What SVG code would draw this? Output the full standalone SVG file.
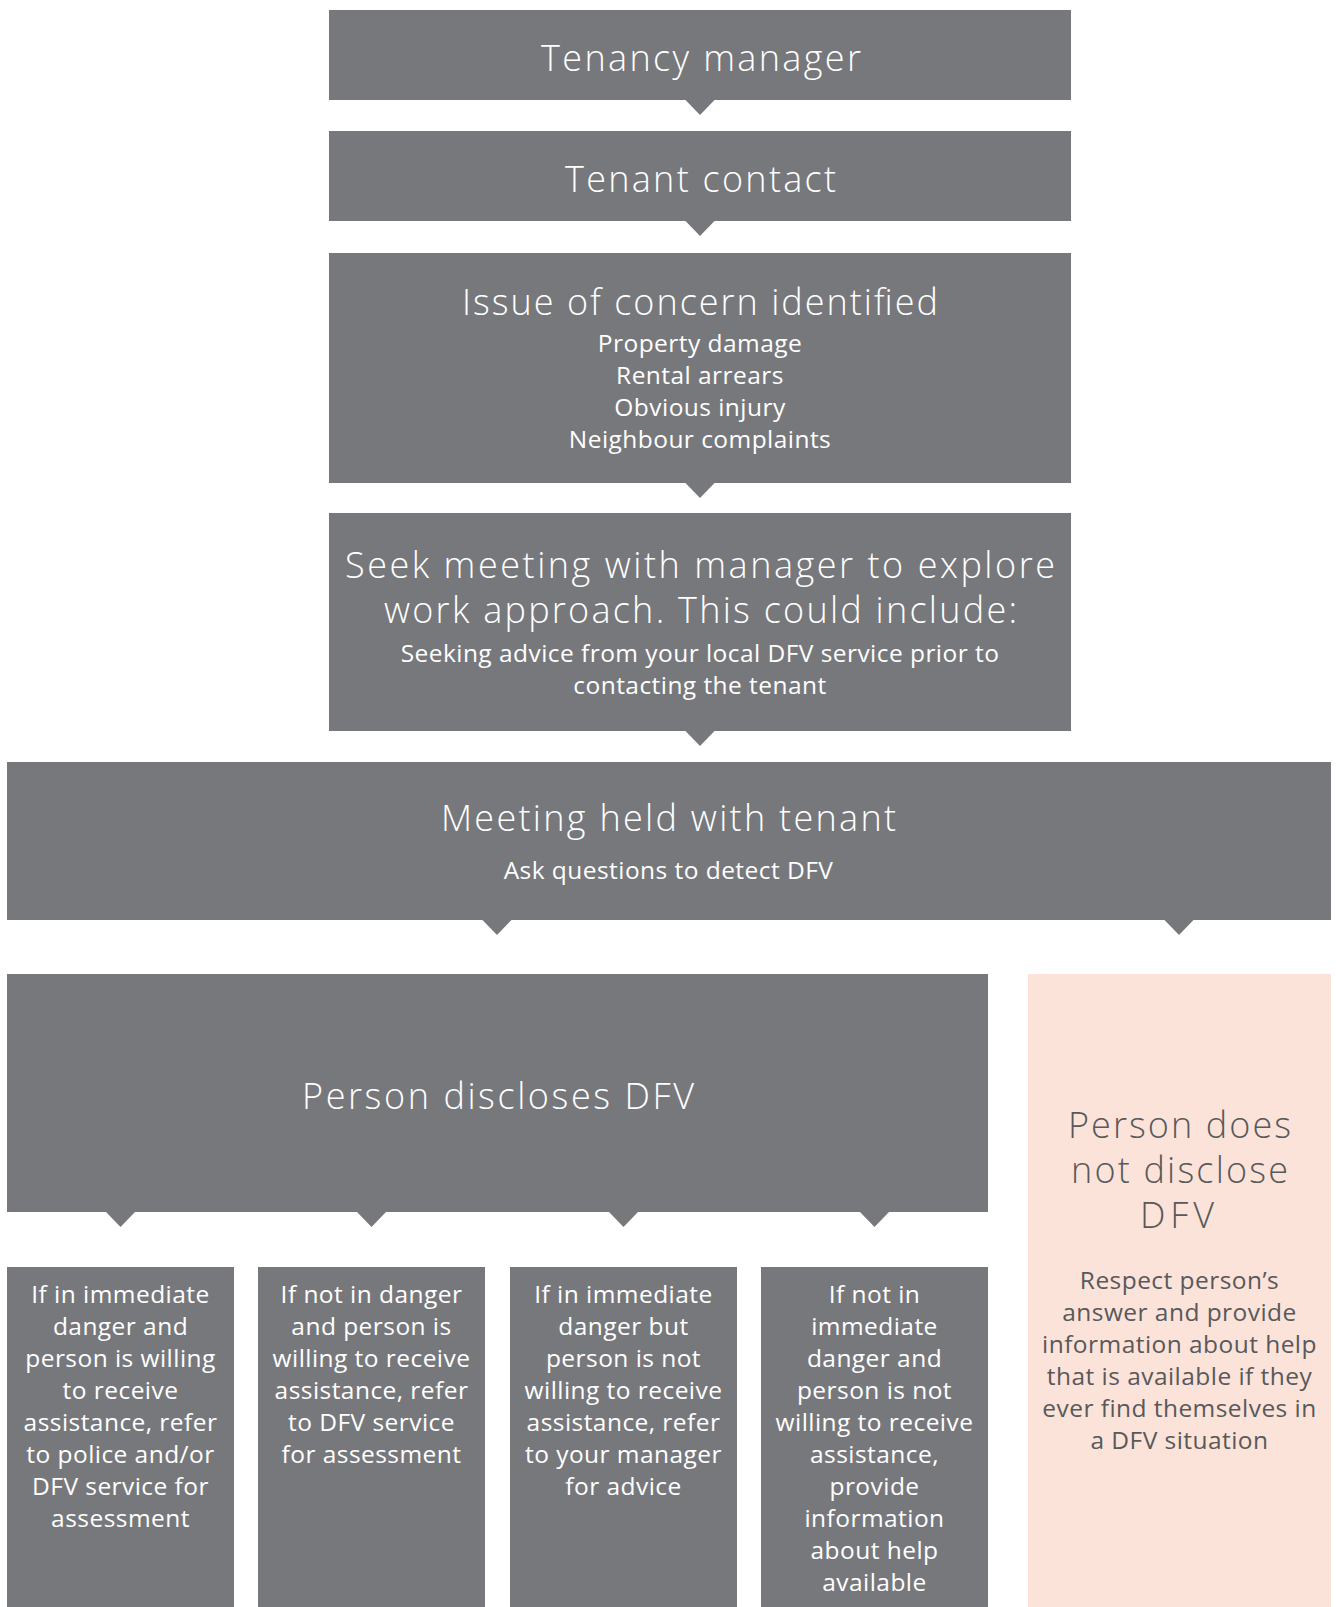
<svg xmlns="http://www.w3.org/2000/svg" width="1336" height="1607" viewBox="0 0 1336 1607">
<style>
.box{fill:#77787c}
.pink{fill:#fce3d9}
.arr{fill:#77787c}
.t{font-family:"Open Sans","Noto Sans",sans-serif;font-weight:300;font-size:36px;fill:#ffffff;text-anchor:middle}
.b{font-family:"Open Sans","Noto Sans",sans-serif;font-weight:400;font-size:24.5px;letter-spacing:0.45px;fill:#ffffff;text-anchor:middle}
.dk{fill:#58595b}
</style>
<rect width="1336" height="1607" fill="#ffffff"/>
<g id="connectors">
<polygon class="arr" points="685.5,100 714.5,100 700,115"/>
<polygon class="arr" points="685.5,221 714.5,221 700,236"/>
<polygon class="arr" points="685.5,483 714.5,483 700,498"/>
<polygon class="arr" points="685.5,731 714.5,731 700,746"/>
<polygon class="arr" points="482.5,920 511.5,920 497,935"/>
<polygon class="arr" points="1164.5,920 1193.5,920 1179,935"/>
<polygon class="arr" points="106,1212 135,1212 120.5,1227"/>
<polygon class="arr" points="357,1212 386,1212 371.5,1227"/>
<polygon class="arr" points="609,1212 638,1212 623.5,1227"/>
<polygon class="arr" points="860,1212 889,1212 874.5,1227"/>
</g>
<g id="tenancy-manager">
<rect class="box" x="329" y="10" width="742" height="90"/>
<text class="t" x="701" y="71" textLength="320" lengthAdjust="spacing">Tenancy manager</text>
</g>
<g id="tenant-contact">
<rect class="box" x="329" y="131" width="742" height="90"/>
<text class="t" x="700.5" y="192" textLength="271" lengthAdjust="spacing">Tenant contact</text>
</g>
<g id="issue-of-concern">
<rect class="box" x="329" y="253" width="742" height="230"/>
<text class="t" x="700" y="315" textLength="476" lengthAdjust="spacing">Issue of concern identified</text>
<text class="b" x="700" y="352">Property damage</text>
<text class="b" x="700" y="384">Rental arrears</text>
<text class="b" x="700" y="416">Obvious injury</text>
<text class="b" x="700" y="448">Neighbour complaints</text>
</g>
<g id="seek-meeting">
<rect class="box" x="329" y="513" width="742" height="218"/>
<text class="t" x="700" y="578" textLength="710" lengthAdjust="spacing">Seek meeting with manager to explore</text>
<text class="t" x="700.5" y="623" textLength="633" lengthAdjust="spacing">work approach. This could include:</text>
<text class="b" x="700" y="662">Seeking advice from your local DFV service prior to</text>
<text class="b" x="700" y="694">contacting the tenant</text>
</g>
<g id="meeting-held">
<rect class="box" x="7" y="762" width="1324" height="158"/>
<text class="t" x="668.5" y="831" textLength="455" lengthAdjust="spacing">Meeting held with tenant</text>
<text class="b" x="668.5" y="879">Ask questions to detect DFV</text>
</g>
<g id="person-discloses">
<rect class="box" x="7" y="974" width="981" height="238"/>
<text class="t" x="498" y="1109" textLength="392" lengthAdjust="spacing">Person discloses DFV</text>
</g>
<g id="person-does-not-disclose">
<rect class="pink" x="1028" y="974" width="303" height="633"/>
<text class="t dk" x="1179.5" y="1138" textLength="223" lengthAdjust="spacing">Person does</text>
<text class="t dk" x="1179.5" y="1183" textLength="217" lengthAdjust="spacing">not disclose</text>
<text class="t dk" x="1177" y="1228" textLength="74" lengthAdjust="spacing">DFV</text>
<text class="b dk" x="1179.5" y="1289">Respect person’s</text>
<text class="b dk" x="1179.5" y="1321">answer and provide</text>
<text class="b dk" x="1179.5" y="1353">information about help</text>
<text class="b dk" x="1179.5" y="1385">that is available if they</text>
<text class="b dk" x="1179.5" y="1417">ever find themselves in</text>
<text class="b dk" x="1179.5" y="1449">a DFV situation</text>
</g>
<g id="immediate-willing">
<rect class="box" x="7" y="1267" width="227" height="340"/>
<text class="b" x="120.5" y="1303">If in immediate</text>
<text class="b" x="120.5" y="1335">danger and</text>
<text class="b" x="120.5" y="1367">person is willing</text>
<text class="b" x="120.5" y="1399">to receive</text>
<text class="b" x="120.5" y="1431">assistance, refer</text>
<text class="b" x="120.5" y="1463">to police and/or</text>
<text class="b" x="120.5" y="1495">DFV service for</text>
<text class="b" x="120.5" y="1527">assessment</text>
</g>
<g id="not-danger-willing">
<rect class="box" x="258" y="1267" width="227" height="340"/>
<text class="b" x="371.5" y="1303">If not in danger</text>
<text class="b" x="371.5" y="1335">and person is</text>
<text class="b" x="371.5" y="1367">willing to receive</text>
<text class="b" x="371.5" y="1399">assistance, refer</text>
<text class="b" x="371.5" y="1431">to DFV service</text>
<text class="b" x="371.5" y="1463">for assessment</text>
</g>
<g id="immediate-not-willing">
<rect class="box" x="510" y="1267" width="227" height="340"/>
<text class="b" x="623.5" y="1303">If in immediate</text>
<text class="b" x="623.5" y="1335">danger but</text>
<text class="b" x="623.5" y="1367">person is not</text>
<text class="b" x="623.5" y="1399">willing to receive</text>
<text class="b" x="623.5" y="1431">assistance, refer</text>
<text class="b" x="623.5" y="1463">to your manager</text>
<text class="b" x="623.5" y="1495">for advice</text>
</g>
<g id="not-immediate-not-willing">
<rect class="box" x="761" y="1267" width="227" height="340"/>
<text class="b" x="874.5" y="1303">If not in</text>
<text class="b" x="874.5" y="1335">immediate</text>
<text class="b" x="874.5" y="1367">danger and</text>
<text class="b" x="874.5" y="1399">person is not</text>
<text class="b" x="874.5" y="1431">willing to receive</text>
<text class="b" x="874.5" y="1463">assistance,</text>
<text class="b" x="874.5" y="1495">provide</text>
<text class="b" x="874.5" y="1527">information</text>
<text class="b" x="874.5" y="1559">about help</text>
<text class="b" x="874.5" y="1591">available</text>
</g>
</svg>
